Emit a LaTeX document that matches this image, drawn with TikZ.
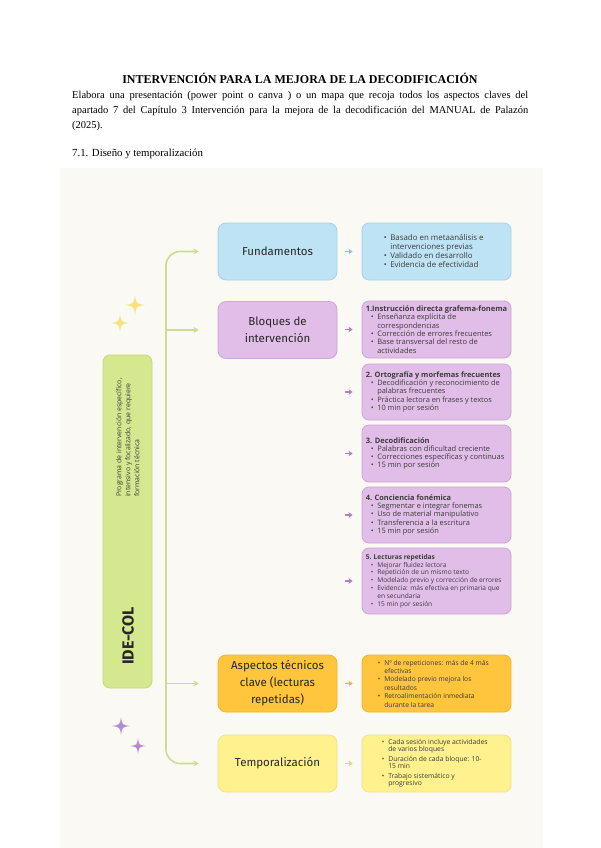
\documentclass[tikz,border=0pt]{standalone}
\usepackage{fontspec}
\setmainfont{Liberation Serif}
\newfontfamily\boxfont{Fira Sans}
\newfontfamily\notefont{Open Sans}
\usetikzlibrary{arrows.meta}
\definecolor{page-bg}{HTML}{FBF9F3}
\definecolor{bar-green}{HTML}{D5E88F}
\definecolor{bar-line}{HTML}{C3D878}
\definecolor{trunk-green}{HTML}{CBDD8E}
\definecolor{fund-fill}{HTML}{BEE3F4}
\definecolor{fund-line}{HTML}{A3D2EA}
\definecolor{fund-tip}{HTML}{8EC3E0}
\definecolor{bloq-fill}{HTML}{E1BEE7}
\definecolor{bloq-line}{HTML}{CDA4D8}
\definecolor{bloq-tip}{HTML}{B47EC3}
\definecolor{asp-fill}{HTML}{FFC53D}
\definecolor{asp-line}{HTML}{F2B42E}
\definecolor{asp-tip}{HTML}{F4B72A}
\definecolor{temp-fill}{HTML}{FFF18E}
\definecolor{temp-line}{HTML}{F2E383}
\definecolor{temp-tip}{HTML}{EFD750}
\definecolor{label-text}{HTML}{262626}
\definecolor{note-text}{HTML}{3C3C3C}
\definecolor{star-gold}{HTML}{F6E27F}
\definecolor{star-violet}{HTML}{B58AD0}
\newcommand{\itm}[1]{\hspace*{5pt}\makebox[6.5pt][l]{\textbullet}#1}
\newcommand{\cnt}[1]{\hspace*{11.5pt}#1}
\newcommand{\sparkle}[4]{%
  \fill[#4] (#1,#2-#3) .. controls (#1+0.12*#3,#2-0.12*#3) .. (#1+#3,#2)
    .. controls (#1+0.12*#3,#2+0.12*#3) .. (#1,#2+#3)
    .. controls (#1-0.12*#3,#2+0.12*#3) .. (#1-#3,#2)
    .. controls (#1-0.12*#3,#2-0.12*#3) .. cycle;}

\begin{document}
\begin{tikzpicture}[x=1pt, y=-1pt,
        mainbox/.style={rounded corners=8pt, line width=0.8pt,
          minimum width=119pt, minimum height=57pt, align=center,
          text=label-text, font=\boxfont\fontsize{11.5}{17}\selectfont},
        subbox/.style={rounded corners=7pt, line width=0.8pt,
          minimum width=149pt},
        subtext/.style={anchor=west, align=left, inner sep=0pt, text=note-text},
        trunk/.style={draw=trunk-green, line width=1.6pt,
          arrows={-Stealth[length=5pt, width=6pt]}},
        stub/.style={line width=1.7pt,
          arrows={-Stealth[length=4pt, width=5.5pt, inset=1pt]}}]
      \useasboundingbox (0,0) rectangle (600,848);
      \fill[white] (0,0) rectangle (600,848);
      \fill[page-bg] (60,168) rectangle (543,848);

      % heading
      \node[font=\bfseries\fontsize{12}{14}\selectfont] (title) at (300,78)
            {INTERVENCIÓN PARA LA MEJORA DE LA DECODIFICACIÓN};
      \node[anchor=north west, inner sep=0pt, text width=456pt, align=justify,
            font=\fontsize{10.5}{15}\selectfont] (task) at (72,91)
            {Elabora una presentación (power point o canva ) o un mapa que recoja todos los aspectos claves del\linebreak
             apartado 7 del Capítulo 3 Intervención para la mejora de la decodificación del MANUAL de Palazón\linebreak
             (2025).};
      \node[anchor=base west, inner sep=0pt, font=\fontsize{10.8}{13}\selectfont]
            (section) at (72,156) {7.1. Diseño y temporalización};

      % program bar
      \node[draw=bar-line, fill=bar-green, rounded corners=7pt, line width=0.8pt,
            minimum width=49pt, minimum height=333pt] (bar) at (127.5,521.5) {};
      \node[rotate=90, anchor=north east, align=left, inner sep=0pt, text=note-text,
            font=\notefont\fontsize{6.9}{9}\selectfont] (about) at (116,378)
            {Programa de intervención específico,\\
             intensivo y focalizado, que requiere\\
             formación técnica};
      \node[rotate=90, text=label-text,
            font=\boxfont\bfseries\fontsize{16}{16}\selectfont] (acronym) at (128,636)
            {IDE-COL};

      % main column
      \node[mainbox, draw=fund-line, fill=fund-fill] (fund) at (277.5,251.5) {Fundamentos};
      \node[mainbox, draw=bloq-line, fill=bloq-fill] (bloq) at (277.5,330) {Bloques de\\intervención};
      \node[mainbox, draw=asp-line, fill=asp-fill] (asp) at (277.5,683.5)
            {Aspectos técnicos\\clave (lecturas\\repetidas)};
      \node[mainbox, draw=temp-line, fill=temp-fill] (temp) at (277.5,763.5) {Temporalización};

      % detail column
      \node[subbox, draw=fund-line, fill=fund-fill, minimum height=57pt] (fundR) at (436.5,251.5) {};
      \node[subtext, font=\notefont\fontsize{7.9}{9}\selectfont] (fundRtext)
            at ([xshift=17pt]fundR.west)
            {\itm{Basado en metaanálisis e}\\ \cnt{intervenciones previas}\\
             \itm{Validado en desarrollo}\\ \itm{Evidencia de efectividad}};
      \node[subbox, draw=bloq-line, fill=bloq-fill, minimum height=57pt] (blkA) at (436.5,329.5) {};
      \node[subtext, font=\notefont\fontsize{7.5}{8.3}\selectfont] (blkAtext)
            at ([xshift=4pt]blkA.west)
            {\textbf{1.Instrucción directa grafema-fonema}\\
             \itm{Enseñanza explícita de}\\ \cnt{correspondencias}\\
             \itm{Corrección de errores frecuentes}\\
             \itm{Base transversal del resto de}\\ \cnt{actividades}};
      \node[subbox, draw=bloq-line, fill=bloq-fill, minimum height=56pt] (blkB) at (436.5,392) {};
      \node[subtext, font=\notefont\fontsize{7.4}{8.2}\selectfont] (blkBtext)
            at ([xshift=4pt]blkB.west)
            {\textbf{2. Ortografía y morfemas frecuentes}\\
             \itm{Decodificación y reconocimiento de}\\ \cnt{palabras frecuentes}\\
             \itm{Práctica lectora en frases y textos}\\ \itm{10 min por sesión}};
      \node[subbox, draw=bloq-line, fill=bloq-fill, minimum height=57pt] (blkC) at (436.5,453.5) {};
      \node[subtext, font=\notefont\fontsize{7.5}{8.2}\selectfont] (blkCtext)
            at ([xshift=4pt]blkC.west)
            {\textbf{3. Decodificación}\\
             \itm{Palabras con dificultad creciente}\\
             \itm{Correcciones específicas y continuas}\\ \itm{15 min por sesión}};
      \node[subbox, draw=bloq-line, fill=bloq-fill, minimum height=56pt] (blkD) at (436.5,515) {};
      \node[subtext, font=\notefont\fontsize{7.4}{8.3}\selectfont] (blkDtext)
            at ([xshift=4pt]blkD.west)
            {\textbf{4. Conciencia fonémica}\\
             \itm{Segmentar e integrar fonemas}\\ \itm{Uso de material manipulativo}\\
             \itm{Transferencia a la escritura}\\ \itm{15 min por sesión}};
      \node[subbox, draw=bloq-line, fill=bloq-fill, minimum height=66pt] (blkE) at (436.5,581) {};
      \node[subtext, font=\notefont\fontsize{6.6}{7.8}\selectfont] (blkEtext)
            at ([xshift=4pt]blkE.west)
            {\textbf{5. Lecturas repetidas}\\
             \itm{Mejorar fluidez lectora}\\ \itm{Repetición de un mismo texto}\\
             \itm{Modelado previo y corrección de errores}\\
             \itm{Evidencia: más efectiva en primaria que}\\ \cnt{en secundaria}\\
             \itm{15 min por sesión}};
      \node[subbox, draw=asp-line, fill=asp-fill, minimum height=57pt] (aspR) at (436.5,683.5) {};
      \node[subtext, font=\notefont\fontsize{6.7}{8.4}\selectfont] (aspRtext)
            at ([xshift=11pt]aspR.west)
            {\itm{Nº de repeticiones: más de 4 más}\\ \cnt{efectivas}\\
             \itm{Modelado previo mejora los}\\ \cnt{resultados}\\
             \itm{Retroalimentación inmediata}\\ \cnt{durante la tarea}};
      \node[subbox, draw=temp-line, fill=temp-fill, minimum height=57pt] (tempR) at (436.5,763.5) {};
      \node[subtext, font=\notefont\fontsize{6.8}{7.2}\selectfont] (tempRtext)
            at ([xshift=15pt]tempR.west)
            {\itm{Cada sesión incluye actividades}\\ \cnt{de varios bloques}\\[2.6pt]
             \itm{Duración de cada bloque: 10-}\\ \cnt{15 min}\\[2.6pt]
             \itm{Trabajo sistemático y}\\ \cnt{progresivo}};

      % connectors
      \coordinate (spine) at (166,500);
      \draw[trunk, arrows={Stealth[length=5pt, width=6pt]-Stealth[length=5pt, width=6pt]},
            rounded corners=14pt]
            ([xshift=-19pt]fund.west) -| (spine) |- ([xshift=-19pt]temp.west);
      \draw[trunk] (bloq.west -| spine) -- ([xshift=-19pt]bloq.west);
      \draw[trunk] (asp.west -| spine) -- ([xshift=-19pt]asp.west);
      \draw[stub, draw=fund-tip] ([xshift=-17pt]fundR.west) -- ([xshift=-9pt]fundR.west);
      \foreach \blk in {blkA, blkB, blkC, blkD, blkE}
        \draw[stub, draw=bloq-tip] ([xshift=-17pt]\blk.west) -- ([xshift=-9pt]\blk.west);
      \draw[stub, draw=asp-tip] ([xshift=-17pt]aspR.west) -- ([xshift=-9pt]aspR.west);
      \draw[stub, draw=temp-tip] ([xshift=-17pt]tempR.west) -- ([xshift=-9pt]tempR.west);

      % sparkles
      \sparkle{135}{305}{10}{star-gold}
      \sparkle{120}{323}{9}{star-gold}
      \sparkle{121}{726}{9}{star-violet}
      \sparkle{138}{746}{8}{star-violet}
    \end{tikzpicture}
\end{document}
